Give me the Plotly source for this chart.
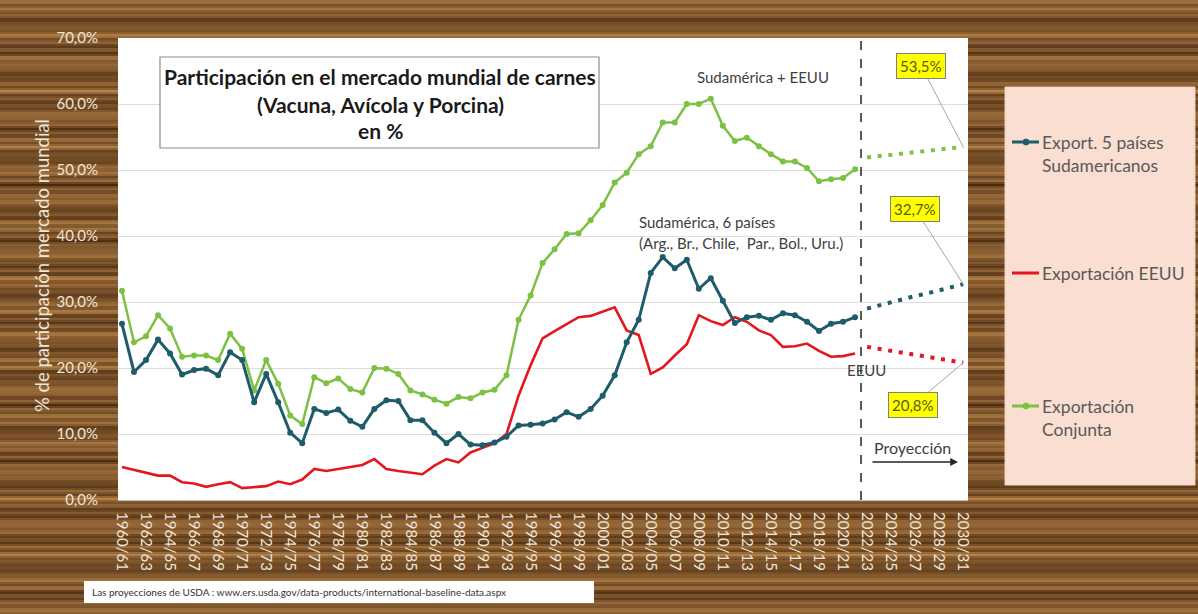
import math
import plotly.graph_objects as go

# ---------------- data ----------------
years = [f"{y}/{str(y + 1)[-2:]}" for y in range(1960, 2031)]
hist_years = years[:62]
proj_years = years[62:]

sud5_hist = [26.7, 19.4, 21.2, 24.3, 22.2, 19.0, 19.7, 19.9, 18.9, 22.4,
             21.2, 14.8, 19.1, 14.8, 10.2, 8.6, 13.8, 13.2, 13.7, 12.0,
             11.1, 13.8, 15.1, 15.0, 12.1, 12.1, 10.2, 8.6, 10.0, 8.4,
             8.3, 8.7, 9.6, 11.3, 11.4, 11.6, 12.2, 13.3, 12.6, 13.8,
             15.8, 18.9, 23.9, 27.3, 34.4, 36.8, 35.1, 36.4, 32.0, 33.6,
             30.2, 26.8, 27.7, 27.9, 27.3, 28.3, 28.0, 27.0, 25.6, 26.7,
             27.0, 27.7]
sud5_proj = [29.0, 29.5, 29.9, 30.4, 30.9, 31.3, 31.8, 32.2, 32.7]

eeuu_hist = [5.0, 4.6, 4.2, 3.7, 3.7, 2.7, 2.5, 2.0, 2.4, 2.7,
             1.8, 1.9, 2.1, 2.8, 2.4, 3.1, 4.7, 4.4, 4.7, 4.9,
             5.3, 6.2, 4.7, 4.4, 4.2, 3.9, 5.2, 6.2, 5.7, 7.2,
             7.9, 8.6, 10.0, 15.8, 20.4, 24.5, 25.6, 26.7, 27.7, 27.9,
             28.5, 29.2, 25.7, 25.0, 19.1, 20.1, 21.9, 23.6, 28.0, 27.1,
             26.5, 27.7, 27.0, 25.7, 25.0, 23.2, 23.3, 23.7, 22.6, 21.7,
             21.8, 22.2]
eeuu_proj = [23.2, 22.9, 22.6, 22.4, 22.1, 21.8, 21.5, 21.1, 20.8]

conj_hist = [31.7, 23.9, 24.8, 28.0, 26.0, 21.7, 21.9, 21.9, 21.2, 25.2,
             22.9, 16.6, 21.2, 17.6, 12.8, 11.5, 18.6, 17.7, 18.4, 16.8,
             16.3, 20.0, 19.9, 19.1, 16.6, 16.0, 15.2, 14.6, 15.6, 15.4,
             16.3, 16.7, 18.9, 27.3, 31.0, 35.9, 38.0, 40.3, 40.4, 42.4,
             44.7, 48.1, 49.6, 52.4, 53.6, 57.2, 57.2, 60.0, 60.0, 60.8,
             56.7, 54.4, 54.9, 53.6, 52.4, 51.3, 51.3, 50.3, 48.3, 48.6,
             48.8, 50.1]
conj_proj = [51.9, 52.1, 52.3, 52.5, 52.7, 52.9, 53.1, 53.3, 53.5]

legend_names = ["Export. 5 países<br>Sudamericanos", "Exportación EEUU",
                "Exportación<br>Conjunta"]

# ---------------- style ----------------
TEAL = "#1E5B6B"
RED = "#E3171E"
GREEN = "#7CC144"
FONT = "Lato"
TXT = "#595959"
LIGHT = "#EFE6D6"

W, H = 1198, 614
L, R, T, B = 118, 230, 38, 114
PW, PH = W - L - R, H - T - B


def px(x):
    return (x - L) / PW


def py(y):
    return (H - B - y) / PH


def note(x, y, text, size=15, color="#404040", xanchor="center", **kw):
    d = dict(xref="paper", yref="paper", x=px(x), y=py(y), text=text,
             showarrow=False, xanchor=xanchor, yanchor="middle",
             font=dict(family=FONT, size=size, color=color))
    d.update(kw)
    return d


fig = go.Figure()

fig.add_trace(go.Scatter(x=hist_years, y=conj_hist, mode="lines+markers",
                         line=dict(color=GREEN, width=2.5),
                         marker=dict(color=GREEN, size=6), showlegend=False))
fig.add_trace(go.Scatter(x=proj_years, y=conj_proj, mode="lines",
                         line=dict(color=GREEN, width=4, dash="4px,6.7px"),
                         showlegend=False))
fig.add_trace(go.Scatter(x=hist_years, y=eeuu_hist, mode="lines",
                         line=dict(color=RED, width=2.6), showlegend=False))
fig.add_trace(go.Scatter(x=proj_years, y=eeuu_proj, mode="lines",
                         line=dict(color=RED, width=4, dash="4px,6.7px"),
                         showlegend=False))
fig.add_trace(go.Scatter(x=hist_years, y=sud5_hist, mode="lines+markers",
                         line=dict(color=TEAL, width=3),
                         marker=dict(color=TEAL, size=6), showlegend=False))
fig.add_trace(go.Scatter(x=proj_years, y=sud5_proj, mode="lines",
                         line=dict(color=TEAL, width=4, dash="4px,6.7px"),
                         showlegend=False))

shapes = []
# wood-like background grain (decoration)
dark = (70, 40, 16)
light = (182, 130, 72)
for yy in range(0, H, 2):
    b = 0.52 + 0.18 * math.sin(yy * 0.23) + 0.14 * math.sin(yy * 0.91 + 1.0) \
        + 0.12 * math.sin(yy * 2.37 + 2.0) + 0.08 * math.sin(yy * 3.71 + 0.4)
    b = max(0.0, min(1.0, b))
    col = tuple(int(dark[i] + (light[i] - dark[i]) * b) for i in range(3))
    shapes.append(dict(type="rect", xref="paper", yref="paper",
                       x0=px(0), x1=px(W), y0=py(yy + 2), y1=py(yy),
                       fillcolor="rgb(%d,%d,%d)" % col, line=dict(width=0),
                       layer="below"))
# plot area background
shapes.append(dict(type="rect", xref="paper", yref="paper", x0=0, x1=1, y0=0,
                   y1=1, fillcolor="white", line=dict(width=0), layer="below"))
# legend box
shapes.append(dict(type="rect", xref="paper", yref="paper", x0=px(1005),
                   x1=px(1195), y0=py(485), y1=py(87), fillcolor="#F9DED1",
                   line=dict(color="#EAD2C4", width=1), layer="below"))
# footnote box
shapes.append(dict(type="rect", xref="paper", yref="paper", x0=px(84),
                   x1=px(594), y0=py(603), y1=py(581), fillcolor="white",
                   line=dict(width=0), layer="below"))
# title box
shapes.append(dict(type="rect", xref="paper", yref="paper", x0=px(160),
                   x1=px(599), y0=py(148), y1=py(57), fillcolor="white",
                   line=dict(color="#8C8C8C", width=1.2), layer="above"))
# projection divider
shapes.append(dict(type="line", xref="x", yref="paper", x0=61.5, x1=61.5,
                   y0=0, y1=1, line=dict(color="#595959", width=2, dash="dash"),
                   layer="above"))
# legend symbols
leg_y = [142, 273, 406]
leg_cols = [TEAL, RED, GREEN]
for yv, c in zip(leg_y, leg_cols):
    shapes.append(dict(type="line", xref="paper", yref="paper", x0=px(1012),
                       x1=px(1039), y0=py(yv), y1=py(yv),
                       line=dict(color=c, width=3)))
for yv, c in [(leg_y[0], TEAL), (leg_y[2], GREEN)]:
    shapes.append(dict(type="circle", xref="paper", yref="paper",
                       x0=px(1023), x1=px(1029), y0=py(yv + 3), y1=py(yv - 3),
                       fillcolor=c, line=dict(color=c, width=1)))

annotations = []
# title
for txt, yv in [("Participación en el mercado mundial de carnes", 77),
                ("(Vacuna, Avícola y Porcina)", 104), ("en %", 130)]:
    annotations.append(note(380, yv, "<b>" + txt + "</b>", size=21,
                            color="#1A1A1A"))
# series labels
annotations.append(note(763, 77, "Sudamérica + EEUU"))
annotations.append(note(637, 222, "Sudamérica, 6 países", xanchor="left"))
annotations.append(note(637, 243, "(Arg., Br., Chile,  Par., Bol., Uru.)",
                        xanchor="left"))
annotations.append(note(866, 370, "EEUU"))
# value call-outs
for series, ax, ay in [(conj_proj, 921, 66), (sud5_proj, 915, 209),
                       (eeuu_proj, 913, 405)]:
    val = series[-1]
    annotations.append(dict(
        x=proj_years[-1], y=val, xref="x", yref="y",
        text=f"{val:.1f}%".replace(".", ","), showarrow=True, arrowhead=0,
        arrowwidth=1, arrowcolor="#A6A6A6", axref="pixel", ayref="pixel",
        ax=ax - 963, ay=ay - (H - B - val * PH / 70),
        bgcolor="#FFFF00", bordercolor="#7F7F7F", borderwidth=1, borderpad=3,
        font=dict(family=FONT, size=15, color="#5A5A1A")))
# projection arrow
annotations.append(note(912, 447, "Proyección", size=16))
annotations.append(dict(xref="paper", yref="paper", x=px(958), y=py(462),
                        axref="pixel", ayref="pixel", ax=-87, ay=0, text="",
                        showarrow=True, arrowhead=2, arrowsize=1.2,
                        arrowwidth=1.3, arrowcolor="#262626"))
# y title
annotations.append(note(42, 266, "% de participación mercado mundial",
                        size=18.5, color=LIGHT, textangle=-90))
# legend texts
for name, yv in zip(legend_names, leg_y):
    annotations.append(dict(xref="paper", yref="paper", x=px(1040),
                            y=py(yv - 12), xanchor="left", yanchor="top",
                            align="left", text=name, showarrow=False,
                            font=dict(family=FONT, size=17.5, color=TXT)))
# footnote
annotations.append(note(90, 592, "Las proyecciones de USDA : www.ers.usda.gov/data-products/international-baseline-data.aspx",
                        size=10, color="#333333", xanchor="left"))

fig.update_layout(
    width=W, height=H,
    margin=dict(l=L, r=R, t=T, b=B, pad=0),
    paper_bgcolor="#8A5A2E", plot_bgcolor="white",
    separators=",.",
    font=dict(family=FONT),
    shapes=shapes, annotations=annotations,
    showlegend=False,
)
fig.update_xaxes(type="category", categoryorder="array", categoryarray=years,
                 range=[-0.33, 70.4], tickvals=years[::2], tickangle=90,
                 showgrid=False, zeroline=False, showline=True,
                 linecolor="#BFBFBF", ticks="outside", ticklen=8,
                 tickcolor="rgba(0,0,0,0)",
                 tickfont=dict(family=FONT, size=15, color=LIGHT))
fig.update_yaxes(range=[0, 70], dtick=10, tickformat=".1f", ticksuffix="%",
                 showgrid=True, gridcolor="#DDDDDD", zeroline=False,
                 ticks="outside", ticklen=16, tickcolor="rgba(0,0,0,0)",
                 tickfont=dict(family=FONT, size=15, color=LIGHT))

fig.write_html("out.html", config={"displayModeBar": False},
               post_script="document.body.style.margin='0px';"
                           "document.body.style.padding='0px';"
                           "document.body.style.overflow='hidden';")
